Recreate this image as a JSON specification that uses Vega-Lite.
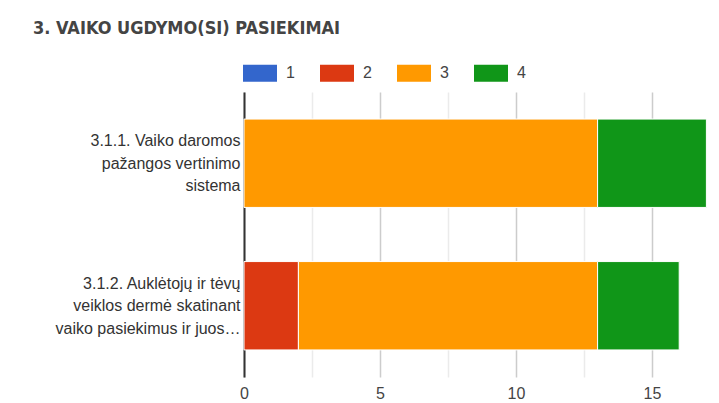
{
  "$schema": "https://vega.github.io/schema/vega-lite/v6.json",
  "autosize": "none",
  "width": 476,
  "height": 285,
  "padding": {"left": 244, "top": 92, "right": 0, "bottom": 26},
  "background": "white",
  "title": {
    "text": "3. VAIKO UGDYMO(SI) PASIEKIMAI",
    "anchor": "start",
    "frame": "group",
    "orient": "top",
    "baseline": "alphabetic",
    "dx": -211,
    "offset": 4,
    "font": "DejaVu Sans Condensed, Liberation Sans",
    "fontSize": 18,
    "fontWeight": "bold",
    "color": "#444444"
  },
  "data": {
    "values": [
      {"item": "3.1.1. Vaiko daromos\npažangos vertinimo\nsistema", "rating": "3", "count": 13},
      {"item": "3.1.1. Vaiko daromos\npažangos vertinimo\nsistema", "rating": "4", "count": 4},
      {"item": "3.1.2. Auklėtojų ir tėvų\nveiklos dermė skatinant\nvaiko pasiekimus ir juos…", "rating": "2", "count": 2},
      {"item": "3.1.2. Auklėtojų ir tėvų\nveiklos dermė skatinant\nvaiko pasiekimus ir juos…", "rating": "3", "count": 11},
      {"item": "3.1.2. Auklėtojų ir tėvų\nveiklos dermė skatinant\nvaiko pasiekimus ir juos…", "rating": "4", "count": 3}
    ]
  },
  "mark": {"type": "bar", "stroke": "white", "strokeWidth": 1},
  "encoding": {
    "y": {
      "field": "item",
      "type": "nominal",
      "sort": null,
      "scale": {"paddingInner": 0.38, "paddingOuter": 0.19},
      "axis": {
        "title": null,
        "labelExpr": "split(datum.label, '\\n')",
        "labelFont": "Liberation Sans",
        "labelFontSize": 16,
        "labelColor": "#333333",
        "labelLineHeight": 22.5,
        "labelOffset": -22,
        "labelPadding": 4,
        "labelLimit": 260,
        "ticks": false,
        "domain": true,
        "domainColor": "#333333",
        "domainWidth": 2,
        "grid": false
      }
    },
    "x": {
      "field": "count",
      "type": "quantitative",
      "stack": "zero",
      "scale": {"domain": [0, 17.5], "nice": false},
      "axis": {
        "title": null,
        "values": [0, 2.5, 5, 7.5, 10, 12.5, 15, 17.5],
        "labelExpr": "datum.value % 5 === 0 ? datum.label : ''",
        "labelFlush": false,
        "labelFont": "Liberation Sans",
        "labelFontSize": 16,
        "labelColor": "#444444",
        "labelPadding": 8,
        "ticks": false,
        "domain": false,
        "grid": true,
        "gridColor": {"condition": {"test": "datum.value % 5 === 0", "value": "#cccccc"}, "value": "#ebebeb"},
        "gridWidth": 1.5
      }
    },
    "color": {
      "field": "rating",
      "type": "nominal",
      "scale": {"domain": ["1", "2", "3", "4"], "range": ["#3366cc", "#dc3912", "#ff9900", "#109618"]},
      "legend": {
        "title": null,
        "orient": "none",
        "direction": "horizontal",
        "legendX": -1,
        "legendY": -36,
        "symbolType": "M-1,-0.5H1V0.5H-1Z",
        "symbolSize": 1156,
        "symbolStrokeWidth": 0,
        "symbolOpacity": 1,
        "labelFont": "Liberation Sans",
        "labelFontSize": 16,
        "labelColor": "#444444",
        "labelOffset": 9,
        "columnPadding": 25
      }
    },
    "order": {"field": "rating", "type": "ordinal"}
  },
  "config": {"view": {"stroke": null}}
}
